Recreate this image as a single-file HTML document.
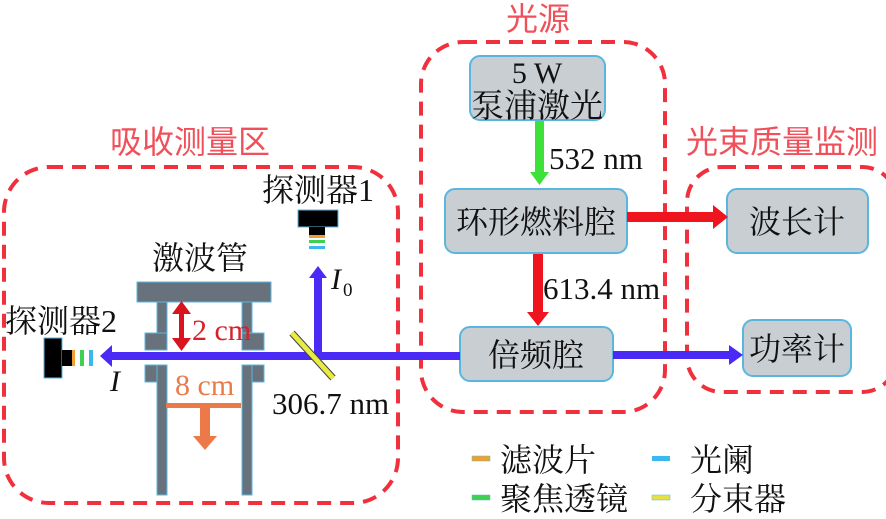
<!DOCTYPE html>
<html><head><meta charset="utf-8"><style>
html,body{margin:0;padding:0;background:#fff;}
svg{display:block;}
</style></head><body>
<svg width="886" height="519" viewBox="0 0 886 519" xmlns="http://www.w3.org/2000/svg" font-family="'Liberation Serif','Noto Serif CJK SC','Noto Sans CJK SC',serif">
<!-- dashed region boxes -->
<g fill="none" stroke="#f0303c" stroke-width="4" stroke-dasharray="14,9">
<rect x="4" y="167" width="394" height="336" rx="45"/>
<rect x="421" y="42" width="244" height="370" rx="42"/>
<rect x="687" y="167" width="210" height="225" rx="35"/>
</g>
<g fill="#f0505a" font-size="32" font-family="'Noto Sans CJK SC',sans-serif">
<text x="110" y="153">吸收测量区</text>
<text x="506" y="30">光源</text>
<text x="686" y="153">光束质量监测</text>
</g>
<!-- boxes -->
<g fill="#c9ced2" stroke="#5bb6de" stroke-width="2">
<rect x="470" y="56" width="135" height="64" rx="10"/>
<rect x="445" y="189" width="182" height="64" rx="10"/>
<rect x="460" y="327" width="153" height="54" rx="10"/>
<rect x="727" y="189" width="141" height="64" rx="10"/>
<rect x="743" y="320" width="108" height="56" rx="10"/>
</g>
<g fill="#111" font-size="32" text-anchor="middle">
<text x="537" y="83" font-size="30">5 W</text>
<text x="537" y="117" font-size="33">泵浦激光</text>
<text x="536" y="233" font-size="32">环形燃料腔</text>
<text x="536" y="366">倍频腔</text>
<text x="797" y="233">波长计</text>
<text x="797" y="360">功率计</text>
</g>
<!-- arrows -->
<rect x="535" y="121" width="9" height="52" fill="#3ee03a"/>
<polygon points="530,172 549,172 539.5,185" fill="#3ee03a"/>
<text x="549" y="169" font-size="31" fill="#111">532 nm</text>
<rect x="533" y="254" width="10" height="60" fill="#f0141e"/>
<polygon points="527,312 549,312 538,326" fill="#f0141e"/>
<text x="543" y="299" font-size="31" fill="#111">613.4 nm</text>
<rect x="627" y="212" width="88" height="10" fill="#f0141e"/>
<polygon points="713,205 728,217 713,229" fill="#f0141e"/>
<rect x="613" y="351" width="118" height="8" fill="#4b2af5"/>
<polygon points="729,345 743,355 729,365" fill="#4b2af5"/>
<!-- main beam -->
<rect x="110" y="352" width="350" height="8" fill="#4b2af5"/>
<polygon points="112,345 100,356 112,367" fill="#4b2af5"/>
<rect x="314" y="276" width="8" height="82" fill="#4b2af5"/>
<polygon points="309,278 318,266 327,278" fill="#4b2af5"/>
<!-- splitter -->
<line x1="292" y1="333" x2="333" y2="378" stroke="#444" stroke-width="7"/>
<line x1="292" y1="333" x2="333" y2="378" stroke="#e8ec40" stroke-width="5"/>
<text x="272" y="414" font-size="31" fill="#111">306.7 nm</text>
<text x="331" y="289" font-size="30" font-style="italic" fill="#111">I</text>
<text x="343" y="296" font-size="19" fill="#111">0</text>
<text x="110" y="391" font-size="30" font-style="italic" fill="#111">I</text>
<!-- detector 1 -->
<text x="262" y="201" font-size="32" fill="#111">探测器1</text>
<rect x="298" y="210" width="40" height="17" fill="#000" stroke="#5bb6de" stroke-width="1"/>
<rect x="309" y="227" width="16" height="8" fill="#000"/>
<rect x="309" y="235" width="16" height="3" fill="#f0a030"/>
<rect x="309" y="240" width="16" height="3" fill="#3ed050"/>
<rect x="309" y="246" width="16" height="3" fill="#3ab8ef"/>
<!-- detector 2 -->
<text x="5" y="332" font-size="32" fill="#111">探测器2</text>
<rect x="44" y="338" width="18" height="40" fill="#000" stroke="#5bb6de" stroke-width="1"/>
<rect x="62" y="350" width="10" height="16" fill="#000"/>
<rect x="72" y="350" width="3" height="16" fill="#f0a030"/>
<rect x="80" y="350" width="4" height="16" fill="#3ed050"/>
<rect x="89" y="350" width="4" height="16" fill="#3ab8ef"/>
<!-- shock tube -->
<text x="152" y="269" font-size="32" fill="#111">激波管</text>
<g fill="#67727c" stroke="#5bb6de" stroke-width="1">
<rect x="137" y="282" width="134" height="20"/>
<rect x="157" y="302" width="10" height="48"/>
<rect x="242" y="302" width="10" height="48"/>
<rect x="145" y="333" width="22" height="17"/>
<rect x="242" y="333" width="22" height="17"/>
<rect x="145" y="365" width="22" height="17"/>
<rect x="242" y="365" width="22" height="17"/>
<rect x="157" y="365" width="10" height="130"/>
<rect x="242" y="365" width="10" height="130"/>
</g>
<rect x="179" y="310" width="5" height="32" fill="#d8141e"/>
<polygon points="172,314 181.5,301 191,314" fill="#d8141e"/>
<polygon points="172,338 181.5,351 191,338" fill="#d8141e"/>
<text x="192" y="340" font-size="30" fill="#d8202a">2 cm</text>
<text x="175" y="395" font-size="30" fill="#ec7a48">8 cm</text>
<rect x="166" y="403" width="75" height="5" fill="#ec7a48"/>
<rect x="200" y="408" width="10" height="30" fill="#ec7a48"/>
<polygon points="193,436 217,436 205,450" fill="#ec7a48"/>
<!-- legend -->
<rect x="472" y="456" width="18" height="5" fill="#f0a030" stroke="#6bb" stroke-width="0.5"/>
<rect x="472" y="495" width="18" height="5" fill="#3ed050" stroke="#6bb" stroke-width="0.5"/>
<rect x="652" y="456" width="18" height="5" fill="#3ab8ef"/>
<rect x="652" y="495" width="18" height="5" fill="#e8e040" stroke="#6bb" stroke-width="0.5"/>
<g fill="#111" font-size="32">
<text x="500" y="471">滤波片</text>
<text x="500" y="510">聚焦透镜</text>
<text x="690" y="471">光阑</text>
<text x="690" y="510">分束器</text>
</g>
</svg>
</body></html>
